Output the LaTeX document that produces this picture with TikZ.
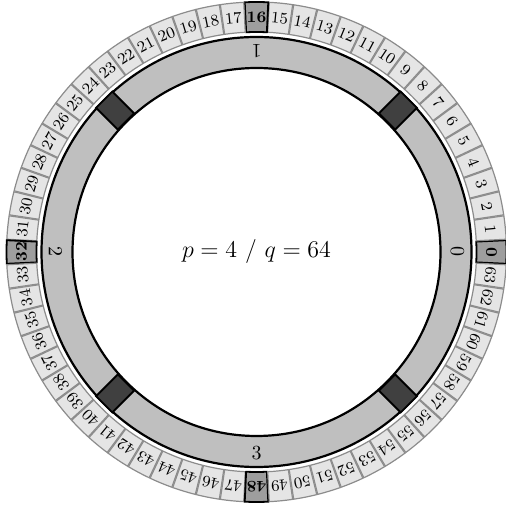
\documentclass[tikz,border=0pt]{standalone}

\begin{document}
\begin{tikzpicture}[
  slot/.style={draw=black!45, fill=black!10, line width=0.6pt},
  mainslot/.style={draw=black, fill=black!38, line width=0.9pt},
  slotnum/.style={font=\footnotesize, inner sep=0pt},
  mainslotnum/.style={font=\footnotesize\bfseries, inner sep=0pt},
  ring/.style={draw=black, fill=black!25, line width=1.1pt, even odd rule},
  block/.style={draw=black, fill=black!75, line width=0.9pt},
  partnum/.style={inner sep=0pt}]

\useasboundingbox (-128.25pt,-127.5pt) rectangle (124.25pt,126pt);

% outer slots
\foreach \i in {0,...,63}{
  \pgfmathsetmacro\a{\i*5.625}
  \pgfmathtruncatemacro\m{mod(\i,16)}
  \ifnum\m=0 \def\kind{mainslot}\else\def\kind{slot}\fi
  \draw[\kind] (\a-2.7:110pt) arc[start angle=\a-2.7, end angle=\a+2.7, radius=110pt]
    -- (\a+2.7:125pt) arc[start angle=\a+2.7, end angle=\a-2.7, radius=125pt] -- cycle;
  \node[\kind num, rotate=\a-90] (slot\i) at (\a:117.5pt) {\i};
}

% inner ring with its four parts
\draw[ring] (0,0) circle[radius=107.5pt] (0,0) circle[radius=92pt];
\foreach \b in {45,135,225,315}
  \draw[block, rotate=\b] (92.3pt,-5.75pt) rectangle (107.7pt,5.75pt);
\foreach \k in {0,...,3}
  \node[partnum, rotate=\k*90+90] (part\k) at (\k*90:100.5pt) {\k};

\node[font=\large] (ratio) at (0,0) {$p=4$ / $q=64$};
\end{tikzpicture}
\end{document}
